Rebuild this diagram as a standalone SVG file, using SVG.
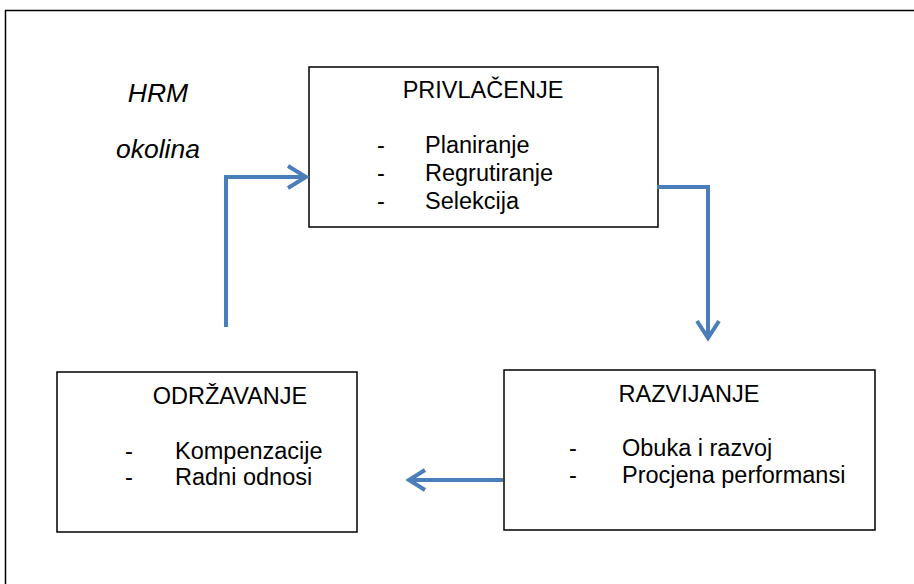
<svg xmlns="http://www.w3.org/2000/svg" width="914" height="584" viewBox="0 0 914 584">
<style>
.box{fill:#fff;stroke:#000;stroke-width:1.5}
.t{font-family:"Liberation Sans",Arial,sans-serif;font-size:23.5px;fill:#000}
.c{stroke:#4A7EBB;stroke-width:4;fill:none;stroke-linejoin:miter}
.it{font-style:italic;font-size:26.5px}
</style>
<rect x="0" y="0" width="914" height="584" fill="#fff"/>
<path d="M5.5 584 V10.5 H914" fill="none" stroke="#000" stroke-width="1.5"/>
<text class="t it" x="158" y="102" text-anchor="middle">HRM</text>
<text class="t it" x="158" y="158" text-anchor="middle">okolina</text>
<g id="privlacenje">
<rect class="box" x="309" y="67" width="349" height="160"/>
<text class="t" x="483" y="98" text-anchor="middle">PRIVLAČENJE</text>
<text class="t" x="377" y="153">-</text><text class="t" x="425" y="153">Planiranje</text>
<text class="t" x="377" y="181">-</text><text class="t" x="425" y="181">Regrutiranje</text>
<text class="t" x="377" y="209">-</text><text class="t" x="425" y="209">Selekcija</text>
</g>
<g id="razvijanje">
<rect class="box" x="504" y="370" width="371" height="160"/>
<text class="t" x="689" y="402" text-anchor="middle">RAZVIJANJE</text>
<text class="t" x="569" y="456">-</text><text class="t" x="622" y="456">Obuka i razvoj</text>
<text class="t" x="569" y="483">-</text><text class="t" x="622" y="483">Procjena performansi</text>
</g>
<g id="odrzavanje">
<rect class="box" x="57" y="372" width="300" height="160"/>
<text class="t" x="230" y="404" text-anchor="middle">ODRŽAVANJE</text>
<text class="t" x="125" y="459">-</text><text class="t" x="175" y="459">Kompenzacije</text>
<text class="t" x="125" y="485">-</text><text class="t" x="175" y="485">Radni odnosi</text>
</g>
<g id="connectors">
<path class="c" d="M226 327 V177 H306"/>
<path class="c" d="M288 166 L306 177 L288 188"/>
<path class="c" d="M657 187 H708 V338"/>
<path class="c" d="M697 321 L708 338 L719 321"/>
<path class="c" d="M503 480 H409"/>
<path class="c" d="M425 470 L409 480 L425 490"/>
</g>
</svg>
